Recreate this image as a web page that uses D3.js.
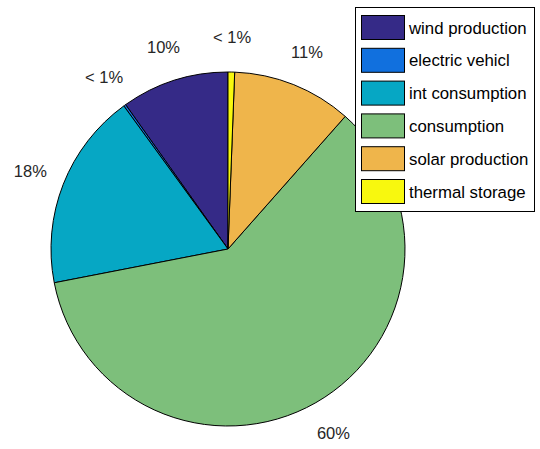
<!DOCTYPE html>
<html>
<head>
<meta charset="utf-8">
<script src="https://cdn.jsdelivr.net/npm/d3@7"></script>
<style>
  body { margin: 0; background: #fff; }
  text { font-family: "Liberation Sans", Arial, sans-serif; }
</style>
</head>
<body>
<div id="chart"></div>
<script>
// Data
const categories = ["wind production", "electric vehicl", "int consumption", "consumption", "solar production", "thermal storage"];
const shares = [9.8, 0.2, 18.0, 60.3, 10.9, 0.6];
const colors = ["#352a87", "#1170de", "#06a7c4", "#7dbf7b", "#efb54b", "#f8f80e"];

const W = 540, H = 449;
const cx = 228, cy = 249, R = 177;

const svg = d3.select("#chart")
    .append("svg")
    .attr("width", W)
    .attr("height", H);

const color = d3.scaleOrdinal().domain(categories).range(colors);

// MATLAB style: start at 12 o'clock, go counterclockwise
const pie = d3.pie()
    .value(d => d.v)
    .sort(null)
    .startAngle(0)
    .endAngle(-2 * Math.PI);

const rows = categories.map((c, i) => ({ name: c, v: shares[i] }));
const arcs = pie(rows);

const arc = d3.arc().innerRadius(0).outerRadius(R);

const g = svg.append("g").attr("transform", `translate(${cx},${cy})`);

g.selectAll("path")
    .data(arcs)
    .enter()
    .append("path")
    .attr("d", arc)
    .attr("fill", d => color(d.data.name))
    .attr("stroke", "#000")
    .attr("stroke-width", 1)
    .attr("stroke-linejoin", "round");

// Percent labels at 1.2 R, centered
const total = d3.sum(shares);
function label(v) {
    const p = v / total * 100;
    return p < 1 ? "< 1%" : Math.round(p) + "%";
}

g.selectAll("text.pct")
    .data(arcs)
    .enter()
    .append("text")
    .attr("class", "pct")
    .attr("x", d => Math.sin((d.startAngle + d.endAngle) / 2) * R * 1.2)
    .attr("y", d => -Math.cos((d.startAngle + d.endAngle) / 2) * R * 1.2)
    .attr("text-anchor", "middle")
    .attr("dominant-baseline", "central")
    .attr("font-size", 16.5)
    .attr("fill", "#262626")
    .text(d => label(d.data.v));

// Legend
const lx = 355, ly = 7, lw = 179, lh = 204;
const legend = svg.append("g");
legend.append("rect")
    .attr("x", lx + 0.5)
    .attr("y", ly + 0.5)
    .attr("width", lw)
    .attr("height", lh)
    .attr("fill", "#fff")
    .attr("stroke", "#000")
    .attr("stroke-width", 1);

const rowY = d3.scalePoint().domain(categories).range([15, 179]);

const item = legend.selectAll("g.item")
    .data(categories)
    .enter()
    .append("g")
    .attr("class", "item")
    .attr("transform", d => `translate(0,${rowY(d)})`);

item.append("rect")
    .attr("x", 361.5)
    .attr("y", 0.5)
    .attr("width", 43)
    .attr("height", 24)
    .attr("fill", d => color(d))
    .attr("stroke", "#000")
    .attr("stroke-width", 1);

item.append("text")
    .attr("x", 409)
    .attr("y", 13)
    .attr("dominant-baseline", "central")
    .attr("font-size", 16.8)
    .attr("fill", "#000")
    .text(d => d);
</script>
</body>
</html>
